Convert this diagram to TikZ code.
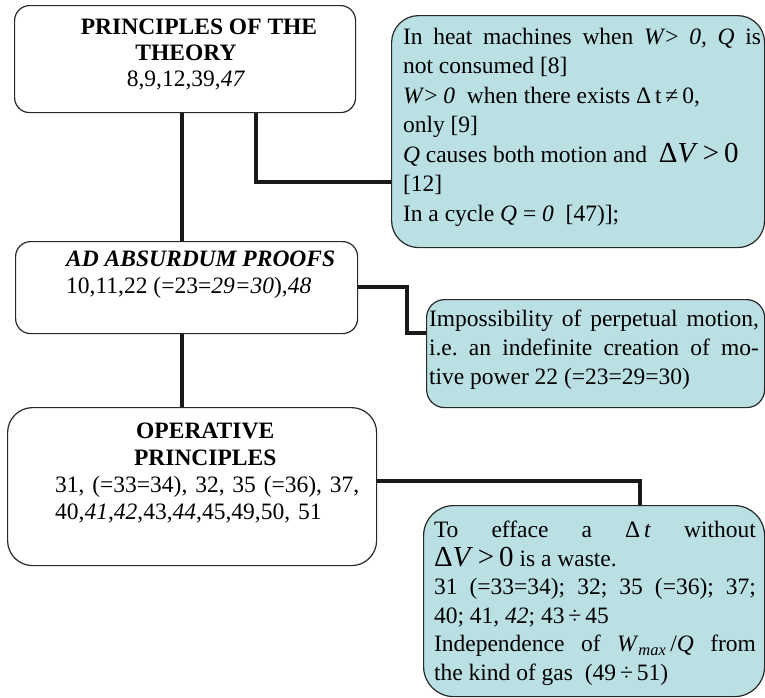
\documentclass[tikz,border=0pt]{standalone}
\usepackage{fontspec}
\setmainfont{Liberation Serif}
\definecolor{boxteal}{RGB}{186,224,228}
\definecolor{edge}{RGB}{40,40,40}
\newcommand{\bigdv}{{\fontsize{29}{29}\selectfont Δ\textit{V}\,>\,0}}
\frenchspacing
\begin{document}
\begin{tikzpicture}[x=1pt,y=-1pt,
  conn/.style={line width=3.5pt, draw=black!90},
  wbox/.style={draw=edge, line width=1.2pt, fill=white, anchor=north west, inner sep=0pt},
  tbox/.style={draw=edge, line width=1.2pt, fill=boxteal, anchor=north west, inner sep=0pt},
  txt/.style={inner sep=0pt, font=\fontsize{23.5}{27}\selectfont\frenchspacing}]
\useasboundingbox (0,0) rectangle (765,697);
% boxes
\node[wbox, rounded corners=15pt, minimum width=341pt, minimum height=107pt] (b1) at (14,5) {};
\node[tbox, rounded corners=27pt, minimum width=373pt, minimum height=232pt] (b2) at (391,15) {};
\node[wbox, rounded corners=15pt, minimum width=342pt, minimum height=92pt] (b3) at (15,241) {};
\node[tbox, rounded corners=18pt, minimum width=338pt, minimum height=108pt] (b4) at (426,299) {};
\node[wbox, rounded corners=25pt, minimum width=369pt, minimum height=158pt] (b5) at (7,407) {};
\node[tbox, rounded corners=30pt, minimum width=341pt, minimum height=191pt] (b6) at (423,505) {};
% texts
\node[txt, align=center, font=\fontsize{23.5}{26}\selectfont] (t1) at (186,55) {\hspace*{26pt}\textbf{PRINCIPLES OF THE}\\\textbf{THEORY}\\8,9,12,39,\textit{47}};
\node[txt, text width=358pt, align=justify, font=\fontsize{23.5}{29.5}\selectfont\frenchspacing] (t2) at (582,127) {%
In heat machines when \textit{W}>~\textit{0,}~\textit{Q} is\linebreak
not consumed [8]\newline
\textit{W}>~\textit{0}~~when there exists Δ\,t\,≠\,0,\newline
only [9]\newline
\textit{Q} causes both motion and~~\bigdv\newline
[12]\newline
In a cycle \textit{Q} = \textit{0}~~[47)];};
\node[txt, align=left, anchor=west] (t3) at (66,275) {\textbf{\textit{AD ABSURDUM PROOFS}}\\10,11,22 (=23=\textit{29=30}),\textit{48}};
\node[txt, text width=330pt, align=justify, font=\fontsize{23.5}{29}\selectfont\frenchspacing] (t4) at (594,350) {%
Impossibility of perpetual motion,\linebreak
i.e. an indefinite creation of mo-\linebreak
tive power 22 (=23=29=30)};
\node[txt, text width=330pt, align=left, anchor=west] (t5) at (55,473) {%
\makebox[300pt]{\textbf{OPERATIVE}}\\
\makebox[300pt]{\textbf{PRINCIPLES}}\\
31, (=33=34), 32, 35 (=36), 37,\\
40,\textit{41},\textit{42},43,\textit{44},45,49,50, 51};
\node[txt, text width=322pt, align=justify, font=\fontsize{23.5}{28.5}\selectfont\frenchspacing] (t6) at (595,603) {%
To efface a Δ\,\textit{t} without\linebreak
\bigdv\ is a waste.\newline
31 (=33=34); 32; 35 (=36); 37;\linebreak
40; 41, \textit{42}; 43\,÷\,45\newline
Independence of \textit{W}\textsubscript{\textit{max}}\,/\textit{Q} from\linebreak
the kind of gas~~(49\,÷\,51)};
% connectors
\coordinate (xa) at (182,0);
\coordinate (xb) at (256,0);
\coordinate (xc) at (407,0);
\coordinate (xd) at (640,0);
\coordinate (ya) at (0,182);
\coordinate (yb) at (0,287);
\coordinate (yc) at (0,333);
\coordinate (yd) at (0,481);
\draw[conn] (b1.south -| xa) -- (b3.north -| xa);
\draw[conn] (b1.south -| xb) |- (b2.west |- ya);
\draw[conn] (b3.east |- yb) -| (xc |- yc) -- (b4.west |- yc);
\draw[conn] (b3.south -| xa) -- (b5.north -| xa);
\draw[conn] (b5.east |- yd) -| (b6.north -| xd);
\end{tikzpicture}
\end{document}
